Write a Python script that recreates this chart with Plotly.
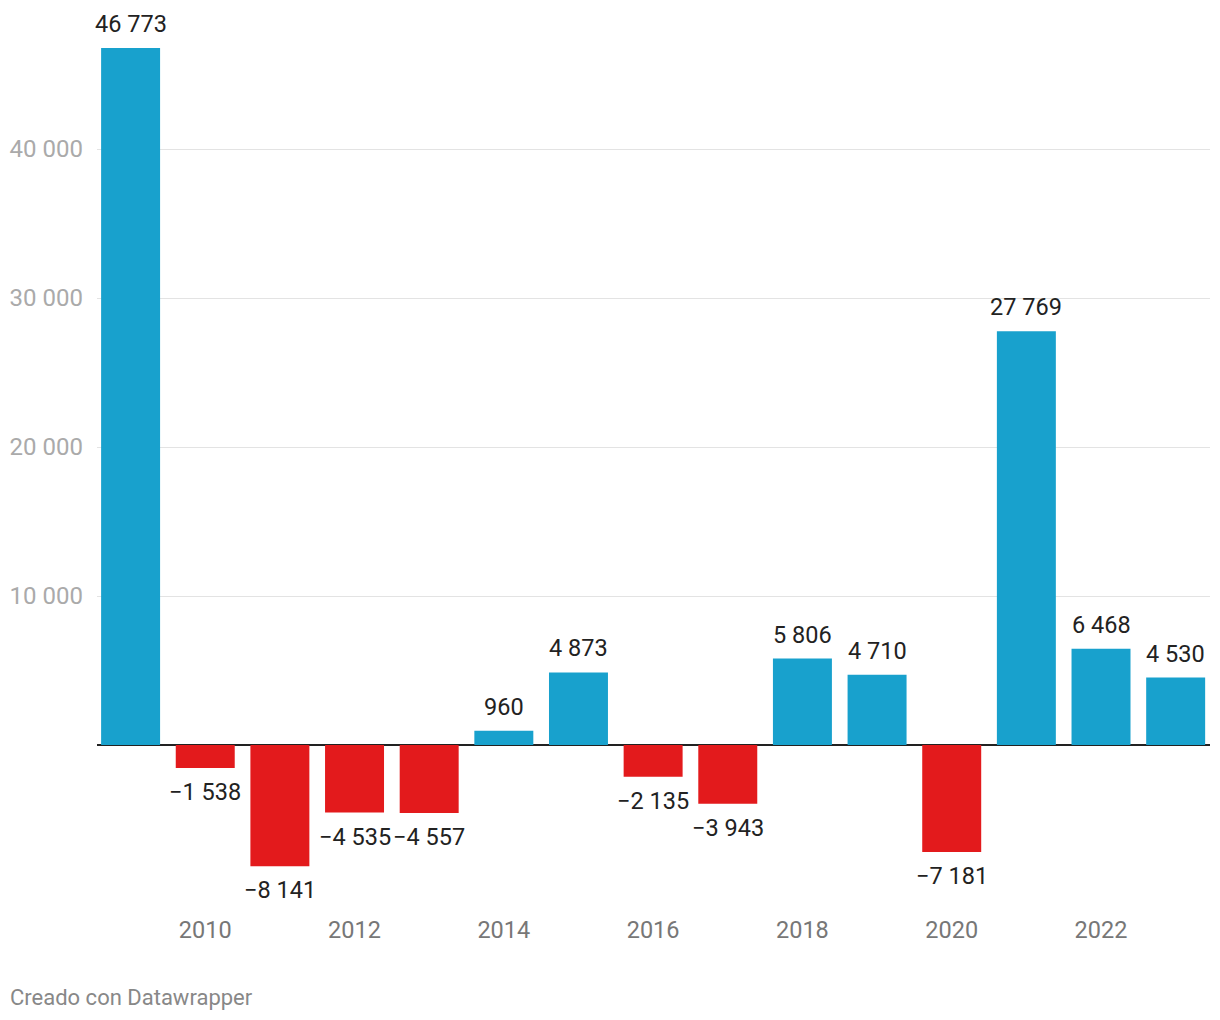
import plotly.graph_objects as go

years = list(range(2009, 2024))
values = [46773, -1538, -8141, -4535, -4557, 960, 4873, -2135, -3943,
          5806, 4710, -7181, 27769, 6468, 4530]
labels = ["46 773", "−1 538", "−8 141", "−4 535", "−4 557", "960", "4 873",
          "−2 135", "−3 943", "5 806", "4 710", "−7 181", "27 769", "6 468", "4 530"]
x_ticks = [2010, 2012, 2014, 2016, 2018, 2020, 2022]
y_ticks = [10000, 20000, 30000, 40000]
y_ticklabels = ["10 000", "20 000", "30 000", "40 000"]

BLUE = "#18a1cd"
RED = "#e31a1c"
colors = [BLUE if v >= 0 else RED for v in values]

fig = go.Figure()
fig.add_trace(go.Bar(
    x=years, y=values, marker_color=colors, marker_line_width=0,
    hoverinfo="skip",
))

for yr, v, lab in zip(years, values, labels):
    fig.add_annotation(
        x=yr, y=v, text=lab, showarrow=False,
        yshift=24 if v >= 0 else -24, yanchor="middle", xanchor="center",
        font=dict(family="Roboto", size=23.5, color="#222222"),
    )

fig.add_annotation(
    xref="paper", yref="paper", x=-0.0800, y=-0.1017,
    xanchor="left", yanchor="middle", showarrow=False,
    text="Creado con Datawrapper",
    font=dict(family="Roboto", size=22, color="#888888"),
)

fig.update_layout(
    width=1220, height=1020,
    margin=dict(l=97, r=10, t=11, b=114),
    paper_bgcolor="white", plot_bgcolor="white",
    bargap=0.21, showlegend=False,
    font=dict(family="Roboto"),
    xaxis=dict(
        range=[2008.55, 2023.46], tickmode="array", tickvals=x_ticks,
        ticktext=[str(t) for t in x_ticks], showgrid=False, zeroline=False,
        showline=False, ticks="", tickfont=dict(size=23.5, color="#777777"),
        ticklabelstandoff=7,
    ),
    yaxis=dict(
        range=[-10805, 49262], tickmode="array", tickvals=y_ticks,
        ticktext=y_ticklabels, showgrid=True, gridcolor="#e3e3e3", gridwidth=1,
        zeroline=True, zerolinecolor="#222222", zerolinewidth=2,
        layer="above traces", showline=False, ticks="",
        tickfont=dict(size=24, color="#aaaaaa"), ticklabelstandoff=13,
    ),
)

fig.write_html("out.html")
